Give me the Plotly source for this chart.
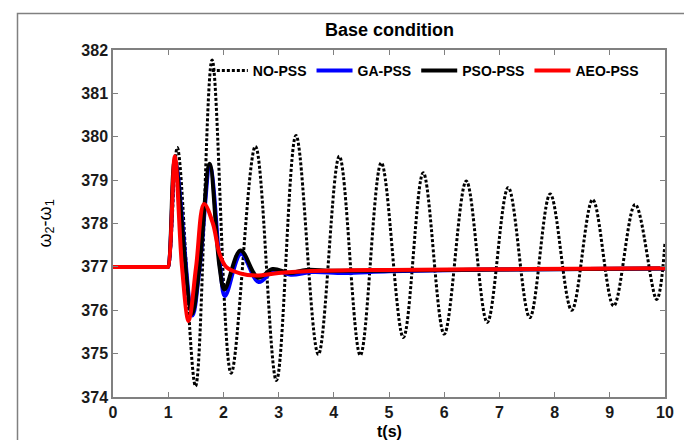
import plotly.graph_objects as go

# ---- data ----
t_nopss = [0, 0.98, 1.0, 1.165, 1.495, 1.795, 2.14, 2.58, 2.96, 3.315, 3.72, 4.10, 4.48,
           4.86, 5.26, 5.62, 6.00, 6.40, 6.78, 7.16, 7.55, 7.92, 8.31, 8.69, 9.07, 9.46, 9.85, 10.0]
v_nopss = [377, 377, 377, 379.75, 374.25, 381.77, 374.55, 379.78, 374.38, 380.03, 374.98, 379.55,
           374.96, 379.40, 375.37, 379.17, 375.45, 378.98, 375.72, 378.83, 375.83, 378.68, 376.0,
           378.55, 376.10, 378.44, 376.25, 377.56]

t_ga = [0, 0.98, 1.0, 1.13, 1.44, 1.57, 1.76, 1.94, 2.03, 2.32, 2.64, 2.92, 3.22, 3.6, 4.2, 5.0, 7.0, 10.0]
v_ga = [377, 377, 377, 379.40, 375.88, 377.0, 379.30, 377.0, 376.33, 377.30, 376.65, 376.92, 376.82,
        376.88, 376.86, 376.90, 376.94, 376.96]

t_pso = [0, 0.98, 1.0, 1.12, 1.43, 1.566, 1.75, 1.93, 2.02, 2.31, 2.63, 2.89, 3.2, 3.5, 4.0, 6.0, 10.0]
v_pso = [377, 377, 377, 379.45, 375.91, 377.0, 379.38, 377.0, 376.48, 377.38, 376.75, 376.95, 376.86,
         376.93, 376.91, 376.93, 376.96]

t_aeo = [0, 0.98, 1.0, 1.12, 1.25, 1.37, 1.505, 1.65, 1.81, 1.93, 2.05, 2.3, 2.6, 3.0, 3.5, 5.0, 7.5, 10.0]
v_aeo = [377, 377, 377, 379.55, 377.0, 375.75, 377.0, 378.45, 378.0, 377.3, 377.0, 376.85, 376.80,
         376.86, 376.90, 376.93, 376.95, 376.97]

series_names = ["NO-PSS", "GA-PSS", "PSO-PSS", "AEO-PSS"]
x_ticks = [0, 1, 2, 3, 4, 5, 6, 7, 8, 9, 10]
y_ticks = [374, 375, 376, 377, 378, 379, 380, 381, 382]

FONT = "Arial, Liberation Sans, sans-serif"

fig = go.Figure()
fig.add_trace(go.Scatter(x=t_nopss, y=v_nopss, name=series_names[0], mode="lines",
                         line=dict(color="black", width=3, dash="3px,2px", shape="spline")))
fig.add_trace(go.Scatter(x=t_ga, y=v_ga, name=series_names[1], mode="lines",
                         line=dict(color="#0000FF", width=4, shape="spline")))
fig.add_trace(go.Scatter(x=t_pso, y=v_pso, name=series_names[2], mode="lines",
                         line=dict(color="black", width=4, shape="spline")))
fig.add_trace(go.Scatter(x=t_aeo, y=v_aeo, name=series_names[3], mode="lines",
                         line=dict(color="#FF0000", width=4, shape="spline")))

axis_common = dict(showline=True, linecolor="#808080", linewidth=1.5, mirror="ticks",
                   ticks="inside", ticklen=5, tickcolor="#808080", tickwidth=1,
                   showgrid=False, zeroline=False,
                   tickfont=dict(family=FONT, size=16, color="#1a1a1a", weight="bold"))

fig.update_layout(
    width=692, height=440,
    margin=dict(l=105, r=35, t=42, b=51),
    paper_bgcolor="white", plot_bgcolor="white",
    showlegend=True,
    legend=dict(orientation="h", x=0.17, y=0.94, xanchor="left", yanchor="middle",
                itemwidth=36,
                bgcolor="rgba(255,255,255,0)", borderwidth=0,
                font=dict(family=FONT, size=14, color="black", weight="bold")),
    xaxis=dict(range=[0, 10], tickvals=x_ticks, **axis_common),
    yaxis=dict(range=[374, 382], tickvals=y_ticks, **axis_common),
    annotations=[
        dict(text="<b>Base condition</b>", xref="paper", yref="paper", x=0.5, y=(389 - 22) / 347,
             xanchor="center", yanchor="middle", showarrow=False,
             font=dict(family=FONT, size=18, color="black")),
        dict(text="<b>t(s)</b>", xref="paper", yref="paper", x=0.5, y=(389 - 423) / 347,
             xanchor="center", yanchor="middle", showarrow=False,
             font=dict(family=FONT, size=16, color="black")),
        dict(text="ω<sub>2</sub>-ω<sub>1</sub>", xref="paper", yref="paper", x=(38 - 105) / 552, y=0.5,
             xanchor="center", yanchor="middle", showarrow=False, textangle=-90,
             font=dict(family=FONT, size=18, color="black")),
    ],
    shapes=[
        dict(type="rect", xref="paper", yref="paper",
             x0=(9.5 - 105) / 552, x1=(686.5 - 105) / 552,
             y0=(389 - 470) / 347, y1=(389 - 5.5) / 347,
             line=dict(color="#808080", width=1.5), fillcolor="rgba(0,0,0,0)", layer="below"),
    ],
)

fig.write_html("out.html")
